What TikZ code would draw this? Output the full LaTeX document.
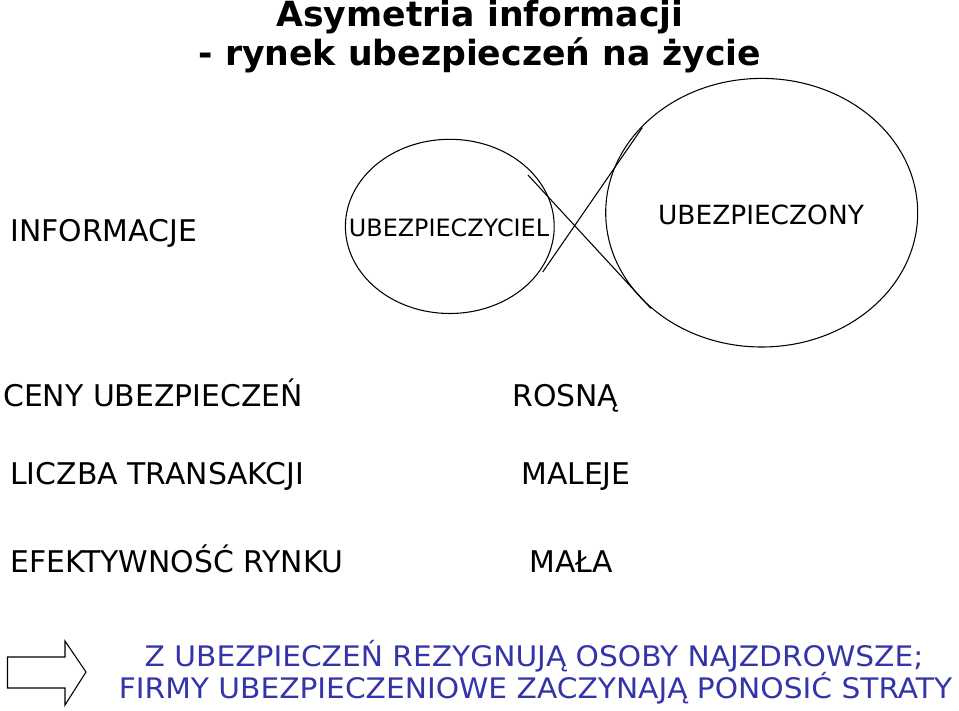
\documentclass[tikz,border=0pt]{standalone}
\usepackage{fontspec}
\setmainfont{DejaVu Sans}
\newfontfamily\widefont[FakeStretch=1.05]{DejaVu Sans}
\definecolor{txtblue}{RGB}{51,51,170}
\begin{document}
\begin{tikzpicture}[x=0.75pt,y=-0.75pt,
  title/.style={font=\bfseries\fontsize{26}{31}\selectfont, align=center, inner sep=0pt},
  lbl/.style={font=\fontsize{22.4}{26}\selectfont, anchor=base west, inner sep=0pt},
  nlbl/.style={font=\fontsize{17.9}{22}\selectfont, anchor=base, inner sep=0pt},
  blue/.style={font=\widefont\fontsize{21.2}{25}\selectfont, text=txtblue, anchor=base, inner sep=0pt},
  oval/.style={draw, line width=0.8pt}
]
\useasboundingbox (0,0) rectangle (959,710);
\node[title] (t1) at (480,17) {Asymetria informacji};
\node[title] (t2) at (480,55) {- rynek ubezpieczeń na życie};

\draw[oval] (449.8,226.4) ellipse [x radius=104.4, y radius=87.1];
\draw[oval] (761.7,212.7) ellipse [x radius=156, y radius=134.3];
\coordinate (a1) at (528,175);
\coordinate (a2) at (651,308.5);
\coordinate (b1) at (542.7,272);
\coordinate (b2) at (642.3,127.6);
\draw[line width=0.8pt] (a1) -- (a2);
\draw[line width=0.8pt] (b1) -- (b2);

\node[lbl] (info) at (10,241.7) {INFORMACJE};
\node[nlbl] (ubz) at (449,236.5) {UBEZPIECZYCIEL};
\node[nlbl, font=\fontsize{19.8}{24}\selectfont] (ubd) at (761,224) {UBEZPIECZONY};

\node[lbl] (ceny) at (3,406.7) {CENY UBEZPIECZEŃ};
\node[lbl] (rosna) at (512,406.7) {ROSNĄ};
\node[lbl] (liczba) at (10,484) {LICZBA TRANSAKCJI};
\node[lbl] (maleje) at (521,484) {MALEJE};
\node[lbl] (efekt) at (10,572) {EFEKTYWNOŚĆ RYNKU};
\node[lbl] (mala) at (529,572) {MAŁA};

\node[blue] (b1t) at (534,666.7) {Z UBEZPIECZEŃ REZYGNUJĄ OSOBY NAJZDROWSZE;};
\node[blue] (b2t) at (535.5,698.3) {FIRMY UBEZPIECZENIOWE ZACZYNAJĄ PONOSIĆ STRATY};

\draw[line width=0.8pt] (7.5,657) -- (65,657) -- (65,641) -- (86,672) -- (65,705) -- (65,688) -- (7.5,688) -- cycle;
\end{tikzpicture}
\end{document}
